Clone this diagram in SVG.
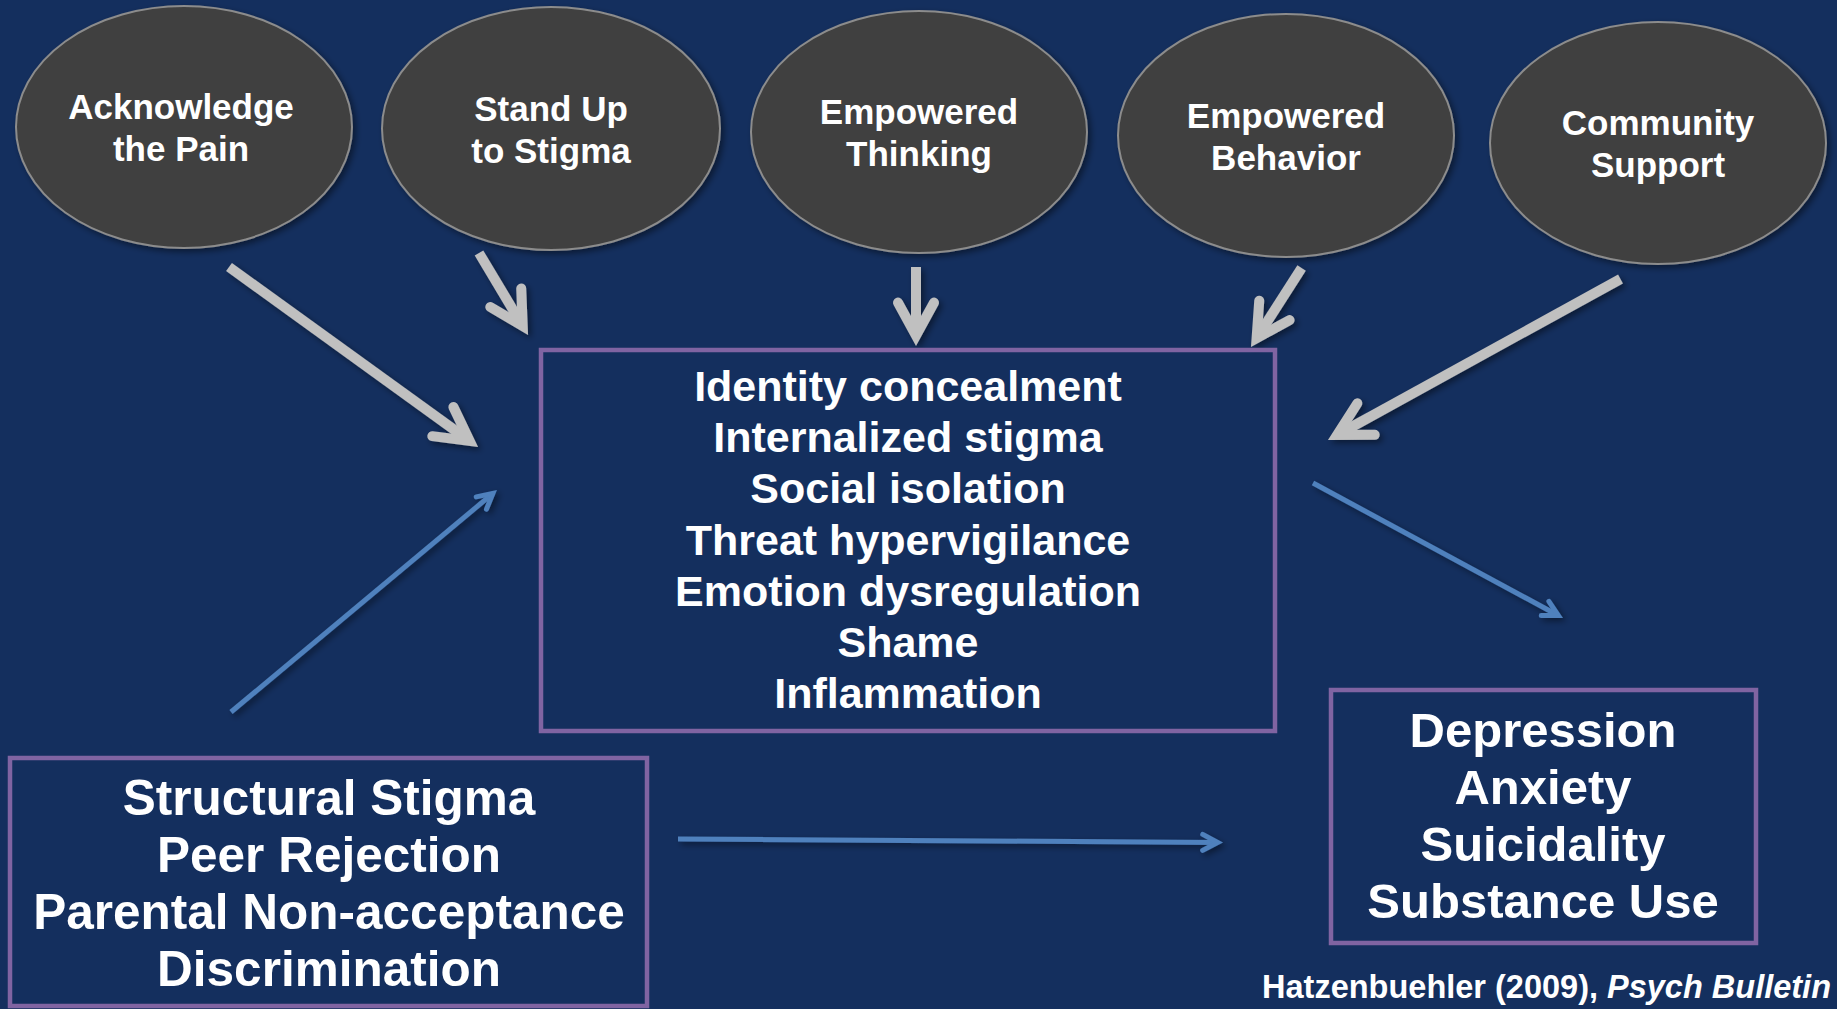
<svg xmlns="http://www.w3.org/2000/svg" width="1837" height="1009" viewBox="0 0 1837 1009">
<style>
.bubble{fill:#404040;stroke:#8c8c8c;stroke-width:2}
.btxt{font-family:"Liberation Sans",Arial,sans-serif;font-weight:bold;font-size:35px;fill:#ffffff;text-anchor:middle}
.box{fill:none;stroke:#8064a2;stroke-width:4.5}
.mtxt{font-family:"Liberation Sans",Arial,sans-serif;font-weight:bold;font-size:43px;fill:#ffffff;text-anchor:middle}
.otxt{font-family:"Liberation Sans",Arial,sans-serif;font-weight:bold;font-size:49px;fill:#ffffff;text-anchor:middle}
.stxt{font-family:"Liberation Sans",Arial,sans-serif;font-weight:bold;font-size:49.5px;fill:#ffffff;text-anchor:middle}
.cite{font-family:"Liberation Sans",Arial,sans-serif;font-weight:bold;font-size:32.5px;fill:#ffffff;text-anchor:end}
.gray{fill:none;stroke:#c0c0c0;stroke-width:10;stroke-linecap:butt;marker-end:url(#grayHead)}
.blue{fill:none;stroke:#4f81bd;stroke-width:5;stroke-linecap:butt;marker-end:url(#blueHead)}
</style>
<defs>
<filter id="sh" x="-20%" y="-20%" width="140%" height="140%">
<feDropShadow dx="3" dy="3" stdDeviation="3" flood-color="#000000" flood-opacity="0.45"/>
</filter>
<marker id="grayHead" markerUnits="userSpaceOnUse" orient="auto" refX="0" refY="0" markerWidth="60" markerHeight="60" overflow="visible">
<path d="M -33 -18 L 0 0 L -33 18" fill="none" stroke="#c0c0c0" stroke-width="10" stroke-linecap="round" stroke-linejoin="miter" stroke-miterlimit="6"/>
</marker>
<marker id="blueHead" markerUnits="userSpaceOnUse" orient="auto" refX="0" refY="0" markerWidth="30" markerHeight="30" overflow="visible">
<path d="M -15 -8 L 0 0 L -15 8" fill="none" stroke="#4f81bd" stroke-width="5" stroke-linecap="round" stroke-linejoin="miter" stroke-miterlimit="6"/>
</marker>
</defs>
<rect x="0" y="0" width="1837" height="1009" fill="#142f5e"/>

<g id="connectors" filter="url(#sh)">
<path class="gray" d="M 229 267 L 469.6 440.9"/>
<path class="gray" d="M 479 253 L 522.7 326.1"/>
<path class="gray" d="M 916 267 L 916 335.6"/>
<path class="gray" d="M 1301.6 268 L 1256.6 338.2"/>
<path class="gray" d="M 1620.5 279 L 1337.1 435"/>
<path class="blue" d="M 231 712 L 492.9 493.4"/>
<path class="blue" d="M 1313 483 L 1558.3 615.5"/>
<path class="blue" d="M 678 839 L 1217.7 842.5"/>
</g>

<g id="node-acknowledge">
<ellipse class="bubble" cx="184" cy="127" rx="168" ry="121" filter="url(#sh)"/>
<text class="btxt" x="181" y="119">Acknowledge</text>
<text class="btxt" x="181" y="161">the Pain</text>
</g>
<g id="node-standup">
<ellipse class="bubble" cx="551" cy="128.5" rx="169" ry="121.5" filter="url(#sh)"/>
<text class="btxt" x="551" y="121">Stand Up</text>
<text class="btxt" x="551" y="163">to Stigma</text>
</g>
<g id="node-thinking">
<ellipse class="bubble" cx="919" cy="132" rx="168" ry="121" filter="url(#sh)"/>
<text class="btxt" x="919" y="124">Empowered</text>
<text class="btxt" x="919" y="166">Thinking</text>
</g>
<g id="node-behavior">
<ellipse class="bubble" cx="1286" cy="135.5" rx="168" ry="121.5" filter="url(#sh)"/>
<text class="btxt" x="1286" y="128">Empowered</text>
<text class="btxt" x="1286" y="170">Behavior</text>
</g>
<g id="node-community">
<ellipse class="bubble" cx="1658" cy="143" rx="168" ry="121" filter="url(#sh)"/>
<text class="btxt" x="1658" y="135">Community</text>
<text class="btxt" x="1658" y="177">Support</text>
</g>

<g id="node-mechanisms">
<rect class="box" x="541" y="350" width="734" height="381"/>
<text class="mtxt" x="908" y="401">Identity concealment</text>
<text class="mtxt" x="908" y="452">Internalized stigma</text>
<text class="mtxt" x="908" y="503">Social isolation</text>
<text class="mtxt" x="908" y="555">Threat hypervigilance</text>
<text class="mtxt" x="908" y="606">Emotion dysregulation</text>
<text class="mtxt" x="908" y="657">Shame</text>
<text class="mtxt" x="908" y="708">Inflammation</text>
</g>

<g id="node-stressors">
<rect class="box" x="10" y="758" width="637" height="248"/>
<text class="stxt" x="329" y="815">Structural Stigma</text>
<text class="stxt" x="329" y="872">Peer Rejection</text>
<text class="stxt" x="329" y="929">Parental Non-acceptance</text>
<text class="stxt" x="329" y="986">Discrimination</text>
</g>

<g id="node-outcomes">
<rect class="box" x="1331" y="690" width="425" height="253"/>
<text class="otxt" x="1543" y="747">Depression</text>
<text class="otxt" x="1543" y="804">Anxiety</text>
<text class="otxt" x="1543" y="861">Suicidality</text>
<text class="otxt" x="1543" y="918">Substance Use</text>
</g>

<text class="cite" x="1831" y="998">Hatzenbuehler (2009), <tspan font-style="italic">Psych Bulletin</tspan></text>
</svg>
